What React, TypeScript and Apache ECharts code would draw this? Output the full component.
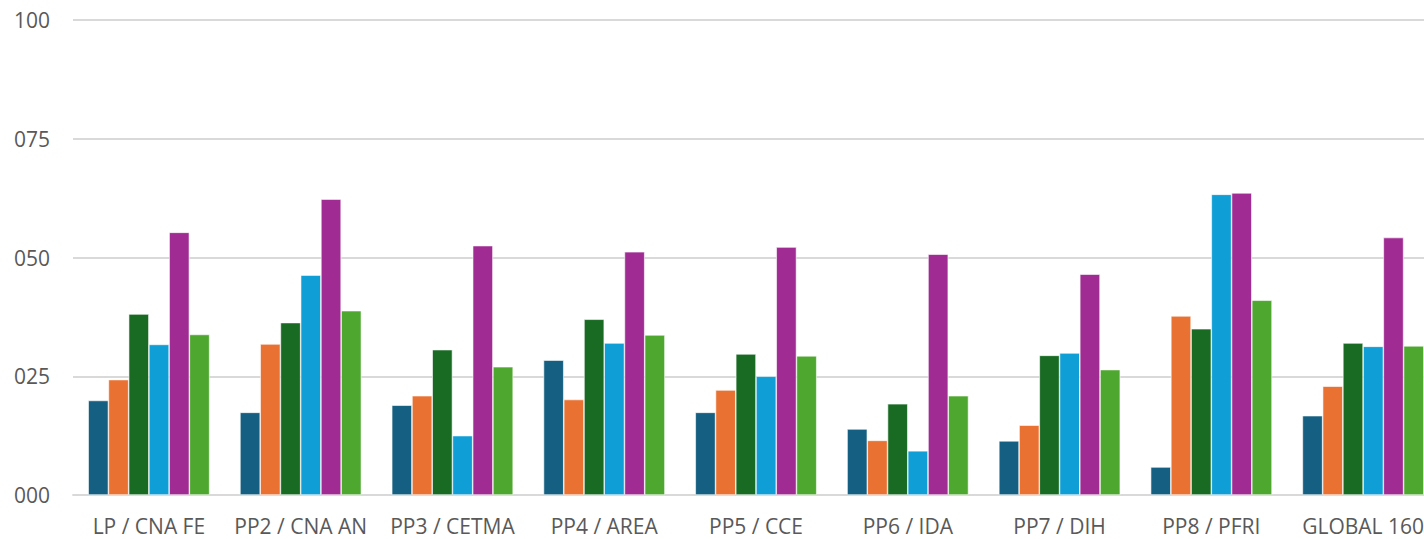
import React, { useEffect, useRef } from "react";
import * as echarts from "echarts";

const categories = [
  "LP / CNA FE",
  "PP2 / CNA AN",
  "PP3 / CETMA",
  "PP4 / AREA",
  "PP5 / CCE",
  "PP6 / IDA",
  "PP7 / DIH",
  "PP8 / PFRI",
  "GLOBAL 160",
];

const seriesA = [19.9, 17.4, 18.9, 28.4, 17.4, 13.9, 11.4, 5.9, 16.7];
const seriesB = [24.3, 31.8, 20.9, 20.1, 22.1, 11.5, 14.7, 37.7, 22.9];
const seriesC = [38.1, 36.3, 30.6, 37.0, 29.7, 19.2, 29.4, 35.0, 32.0];
const seriesD = [31.7, 46.3, 12.5, 32.0, 25.0, 9.3, 29.9, 63.3, 31.3];
const seriesE = [55.3, 62.3, 52.5, 51.2, 52.2, 50.7, 46.5, 63.6, 54.2];
const seriesF = [33.8, 38.8, 27.0, 33.7, 29.3, 20.9, 26.4, 41.0, 31.4];

const allSeries = [seriesA, seriesB, seriesC, seriesD, seriesE, seriesF];
const colors = ["#156082", "#E97132", "#196B24", "#0F9ED5", "#A02B93", "#4EA72E"];

export default function App() {
  const ref = useRef<HTMLDivElement>(null);
  useEffect(() => {
    if (!ref.current) return;
    const chart = echarts.init(ref.current, undefined, { renderer: "svg" });
    chart.setOption({
      animation: false,
      grid: { left: 73, top: 20, bottom: 44, right: 0, containLabel: false },
      xAxis: {
        type: "category",
        data: categories,
        axisTick: { show: false },
        axisLine: { lineStyle: { color: "#d9d9d9", width: 1.8 } },
        axisLabel: {
          color: "#595959",
          fontSize: 21,
          fontFamily: "Open Sans",
          margin: 20,
          interval: 0,
        },
      },
      yAxis: {
        type: "value",
        min: 0,
        max: 100,
        interval: 25,
        axisLine: { show: false },
        axisTick: { show: false },
        splitLine: { lineStyle: { color: "#d9d9d9", width: 1.8 } },
        axisLabel: {
          color: "#595959",
          fontSize: 21,
          fontFamily: "Open Sans",
          margin: 23,
          formatter: (v: number) => String(Math.round(v)).padStart(3, "0"),
        },
      },
      series: allSeries.map((d, i) => ({
        type: "bar",
        data: d,
        barGap: "0%",
        barCategoryGap: "20%",
        itemStyle: { color: colors[i], borderColor: "#ffffff", borderWidth: 0.6 },
      })),
    });
    return () => chart.dispose();
  }, []);
  return (
    <div
      style={{
        position: "fixed",
        left: 0,
        top: 0,
        width: 1424,
        height: 539,
        overflow: "hidden",
        background: "#fff",
      }}
    >
      <div ref={ref} style={{ width: 1439, height: 539 }} />
    </div>
  );
}
